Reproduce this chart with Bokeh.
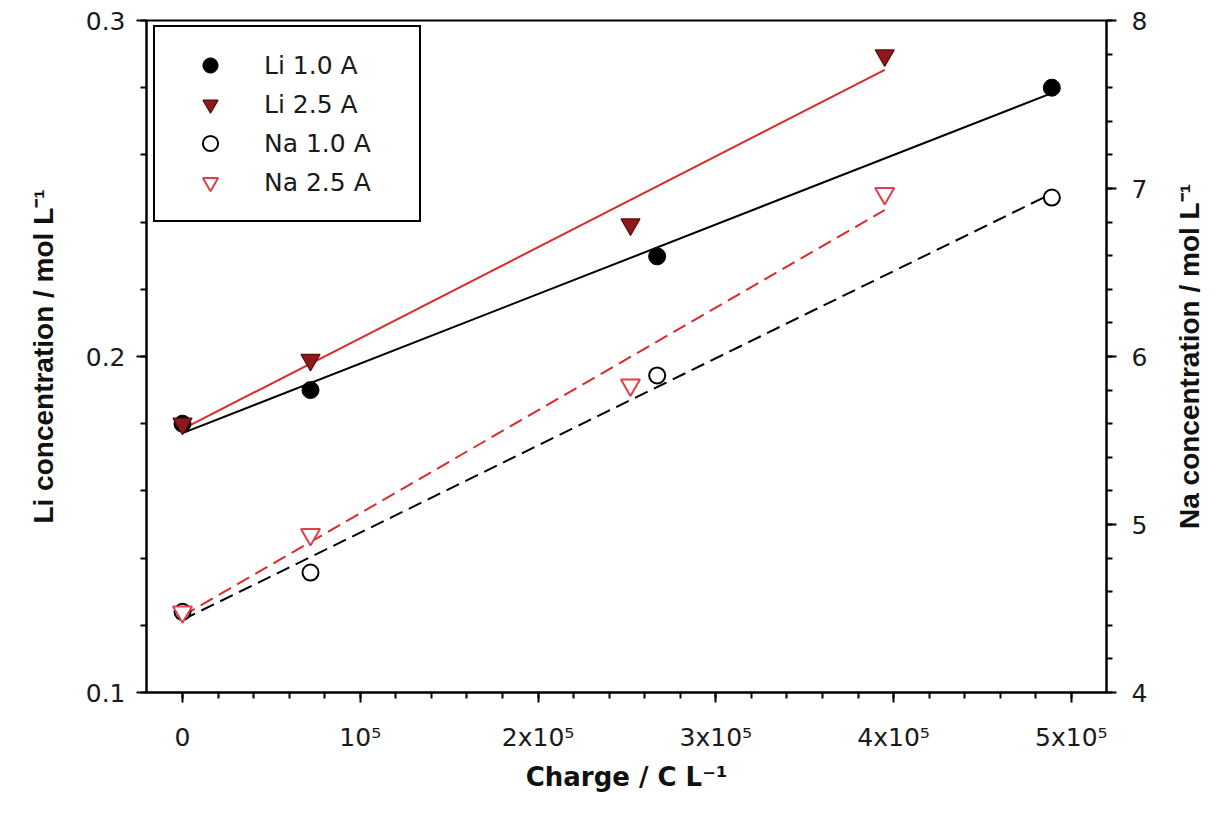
import numpy as np
from bokeh.plotting import figure
from bokeh.layouts import row
from bokeh.models import Range1d, LinearAxis, FixedTicker, Legend, LegendItem
from bokeh.embed import file_html
from bokeh.resources import INLINE

# ---- data ----
charge_li10 = [0, 72000, 267000, 489000]
li_10 = [0.180, 0.190, 0.2298, 0.280]
charge_li25 = [0, 72000, 252000, 395000]
li_25 = [0.180, 0.199, 0.2393, 0.2896]
charge_na10 = [0, 72000, 267000, 489000]
na_10 = [4.48, 4.714, 5.887, 6.946]
charge_na25 = [0, 72000, 252000, 395000]
na_25 = [4.48, 4.94, 5.83, 6.97]

# linear-fit lines (end points)
fit_x10 = [0, 489000]
fit_x25 = [0, 395000]
fit_li10 = [0.1772, 0.2784]
fit_li25 = [0.1784, 0.2853]
fit_na10 = [4.433, 6.970]
fit_na25 = [4.456, 6.872]

series_labels = ["Li 1.0 A", "Li 2.5 A", "Na 1.0 A", "Na 2.5 A"]

x_ticks = [0, 100000, 200000, 300000, 400000, 500000]
x_tick_labels = ["0", "10\u2075", "2x10\u2075", "3x10\u2075", "4x10\u2075", "5x10\u2075"]
li_ticks = [0.1, 0.2, 0.3]
na_ticks = [4, 5, 6, 7, 8]

RED = "#d92b2b"
DARKRED = "#8c1a1a"
TICK_FONT = "DejaVu Sans"
LABEL_FONT = "Liberation Sans"

X_START, X_END = -20250, 519750

p = figure(width=1156, height=815, output_backend="svg", toolbar_location=None,
           x_range=Range1d(X_START, X_END), y_range=Range1d(0.1, 0.3),
           min_border_left=146, min_border_right=50, min_border_top=20,
           min_border_bottom=123)
p.extra_y_ranges = {"na": Range1d(4, 8)}
p.xgrid.visible = False
p.ygrid.visible = False
p.outline_line_color = "black"
p.outline_line_width = 2
p.outline_line_alpha = 1.0
p.background_fill_color = "white"
p.border_fill_color = "white"

# fit lines
p.line(fit_x10, fit_li10, line_color="black", line_width=2)
p.line(fit_x25, fit_li25, line_color=RED, line_width=2)
p.line(fit_x10, fit_na10, line_color="black", line_width=2, line_dash="14 7", y_range_name="na")
p.line(fit_x25, fit_na25, line_color=RED, line_width=2, line_dash="14 7", y_range_name="na")

# markers
r1 = p.scatter(charge_li10, li_10, marker="circle", size=17, fill_color="black", line_color="black")
r2 = p.scatter(charge_li25, li_25, marker="inverted_triangle", size=19, fill_color=DARKRED,
               line_color="#5e0d0d", line_width=1.2)
r3 = p.scatter(charge_na10, na_10, marker="circle", size=16, fill_color="white", line_color="black",
               line_width=2, y_range_name="na")
r4 = p.scatter(charge_na25, na_25, marker="inverted_triangle", size=19, fill_color="white",
               line_color="#e0404a", line_width=2, y_range_name="na")

# axes
xa = p.xaxis[0]
xa.ticker = FixedTicker(ticks=x_ticks, minor_ticks=[int(v) for v in np.arange(0, 500001, 20000)])
xa.major_label_overrides = {t: l for t, l in zip(x_ticks, x_tick_labels)}
xa.axis_label = "Charge / C L\u207b\u00b9"

ya = p.yaxis[0]
ya.ticker = FixedTicker(ticks=li_ticks, minor_ticks=[round(v, 2) for v in np.arange(0.1, 0.3001, 0.02)])
ya.axis_label = "Li concentration / mol L\u207b\u00b9"

ra = LinearAxis(y_range_name="na",
                ticker=FixedTicker(ticks=na_ticks, minor_ticks=[round(v, 1) for v in np.arange(4, 8.001, 0.2)]))
p.add_layout(ra, "right")

for ax in (xa, ya, ra):
    ax.axis_line_width = 2
    ax.axis_line_color = "black"
    ax.major_tick_line_width = 2
    ax.minor_tick_line_width = 2
    ax.major_tick_line_color = "black"
    ax.minor_tick_line_color = "black"
    ax.major_tick_in = 0
    ax.major_tick_out = 10
    ax.minor_tick_in = 0
    ax.minor_tick_out = 6
    ax.major_label_text_font = TICK_FONT
    ax.major_label_text_font_size = "25px"
    ax.major_label_text_color = "#1a1a1a"
    ax.axis_label_text_font = LABEL_FONT
    ax.axis_label_text_font_style = "bold"
    ax.axis_label_text_font_size = "28px"
    ax.axis_label_text_color = "#111111"

xa.axis_label_text_font = "DejaVu Sans"
xa.axis_label_text_font_size = "26px"
xa.major_label_standoff = 20
xa.axis_label_standoff = 7
ya.major_label_standoff = 11
ya.axis_label_standoff = 24
ra.major_label_standoff = 15

legend = Legend(items=[LegendItem(label=series_labels[0], renderers=[r1]),
                       LegendItem(label=series_labels[1], renderers=[r2]),
                       LegendItem(label=series_labels[2], renderers=[r3]),
                       LegendItem(label=series_labels[3], renderers=[r4])],
                location=(7, 470), orientation="vertical", margin=0, padding=19,
                spacing=1, glyph_width=72, glyph_height=38, label_standoff=18,
                label_width=136, label_height=38,
                border_line_color="black", border_line_width=2, border_line_alpha=1.0,
                background_fill_color="white", background_fill_alpha=1.0,
                label_text_font=TICK_FONT, label_text_font_size="25px",
                label_text_color="#1a1a1a")
p.add_layout(legend)

# narrow companion figure carrying the right-hand axis title (reads bottom-to-top)
q = figure(width=72, height=815, output_backend="svg", toolbar_location=None,
           x_range=Range1d(0, 1), y_range=Range1d(4, 8),
           min_border_left=48, min_border_right=0, min_border_top=20,
           min_border_bottom=123)
q.outline_line_color = None
q.xgrid.visible = False
q.ygrid.visible = False
q.xaxis.visible = False
q.background_fill_color = "white"
q.border_fill_color = "white"
qa = q.yaxis[0]
qa.ticker = FixedTicker(ticks=[])
qa.axis_line_color = None
qa.major_tick_line_color = None
qa.minor_tick_line_color = None
qa.major_tick_out = 0
qa.minor_tick_out = 0
qa.axis_label = "Na concentration / mol L\u207b\u00b9"
qa.axis_label_standoff = 0
qa.axis_label_text_font = LABEL_FONT
qa.axis_label_text_font_style = "bold"
qa.axis_label_text_font_size = "28px"
qa.axis_label_text_color = "#111111"

layout = row(p, q, spacing=0)
open("out.html", "w").write(file_html(layout, INLINE))
